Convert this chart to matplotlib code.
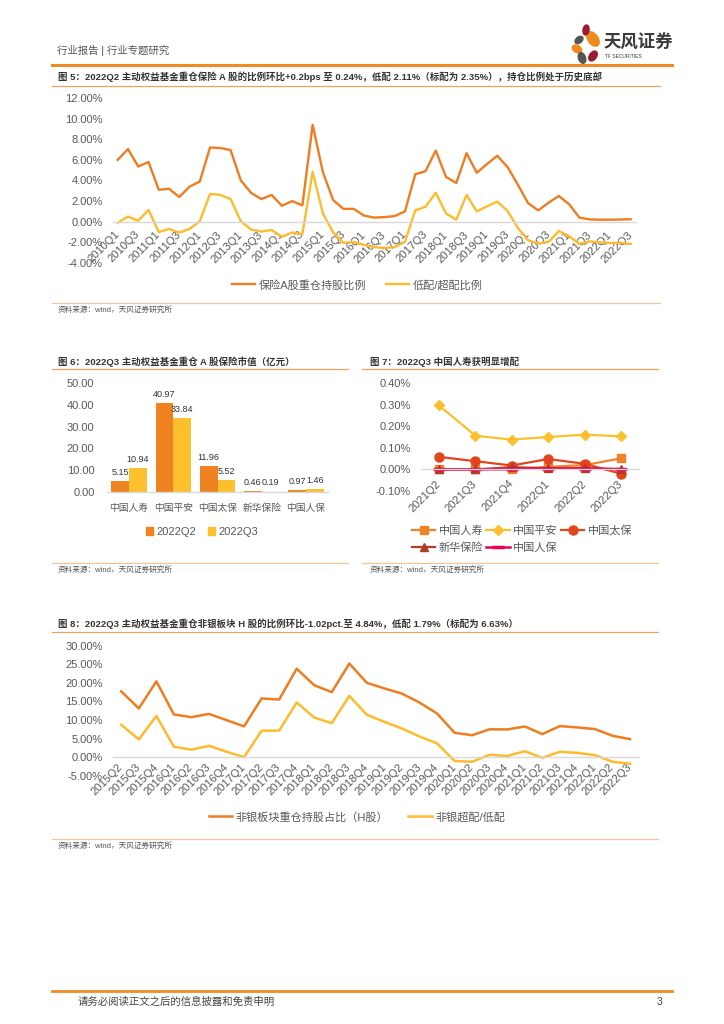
import matplotlib.pyplot as plt
import numpy as np
from matplotlib.patches import Ellipse, Patch

plt.rcParams['font.family'] = ['Liberation Sans', 'Noto Sans CJK SC']
plt.rcParams['axes.unicode_minus'] = False

W, H = 724, 1024
ORANGE = '#EE7D22'
YELLOW = '#FDBB2D'
GRAY = '#595959'
ZERO = '#D9D9D9'

# ---- chart 5 data (2010Q1 - 2022Q3)
q5 = [f'{y}Q{q}' for y in range(2010, 2023) for q in range(1, 5)][:51]
hold5 = [6.0, 7.05, 5.35, 5.8, 3.1, 3.2, 2.4, 3.4, 3.9, 7.2, 7.15, 6.95,
         4.0, 2.8, 2.2, 2.6, 1.55, 2.0, 1.6, 9.4, 4.8, 2.1, 1.25, 1.25,
         0.6, 0.4, 0.45, 0.55, 1.0, 4.6, 4.9, 6.9, 4.35, 3.75, 6.65, 4.75,
         5.6, 6.4, 5.3, 3.6, 1.8, 1.1, 1.85, 2.5, 1.7, 0.4, 0.23, 0.2,
         0.2, 0.22, 0.24]
over5 = [-0.1, 0.5, 0.1, 1.15, -1.0, -0.7, -1.05, -0.7, 0.05, 2.7, 2.6, 2.2,
         0.05, -0.75, -0.95, -0.8, -1.45, -1.05, -1.2, 4.85, 0.8, -1.05, -2.05, -1.95,
         -2.25, -2.45, -2.55, -2.45, -1.95, 1.1, 1.45, 2.8, 0.8, 0.2, 2.6, 1.0,
         1.5, 1.95, 1.05, -0.6, -1.8, -2.1, -1.95, -0.9, -1.4, -2.15, -1.9, -2.0,
         -2.05, -2.05, -2.15]

# ---- chart 6 data
cos6 = ['中国人寿', '中国平安', '中国太保', '新华保险', '中国人保']
q2_6 = [5.15, 40.97, 11.96, 0.46, 0.97]
q3_6 = [10.94, 33.84, 5.52, 0.19, 1.46]

# ---- chart 7 data
q7 = ['2021Q2', '2021Q3', '2021Q4', '2022Q1', '2022Q2', '2022Q3']
life7 = [0.0, 0.0, 0.0, 0.012, 0.02, 0.051]
pingan7 = [0.296, 0.156, 0.138, 0.150, 0.161, 0.153]
cpic7 = [0.058, 0.038, 0.018, 0.048, 0.026, -0.020]
nci7 = [0.0, 0.0, 0.01, 0.005, 0.005, 0.001]
picc7 = [0.0, 0.0, 0.002, 0.004, 0.004, 0.001]

# ---- chart 8 data (2015Q2 - 2022Q3)
q8 = [f'{y}Q{q}' for y in range(2015, 2023) for q in range(1, 5)][1:31]
hold8 = [17.7, 13.1, 20.4, 11.5, 10.75, 11.65, 9.95, 8.3, 15.8, 15.5,
         23.8, 19.35, 17.5, 25.2, 20.0, 18.5, 17.1, 14.7, 11.75, 6.55,
         5.9, 7.5, 7.45, 8.25, 6.2, 8.35, 8.0, 7.55, 5.75, 4.84]
over8 = [8.7, 4.75, 11.1, 2.8, 2.0, 3.05, 1.45, 0.0, 7.1, 7.15,
         14.7, 10.65, 9.15, 16.5, 11.4, 9.5, 7.7, 5.55, 3.7, -1.05,
         -1.25, 0.65, 0.3, 1.6, -0.2, 1.45, 1.15, 0.55, -1.25, -1.79]


def rect(x0, y0, x1, y1):
    return [x0 / W, 1 - y1 / H, (x1 - x0) / W, (y1 - y0) / H]


def fpos(x, y):
    return (x / W, 1 - y / H)


def style(ax, xpad, ypad, zero_spine=True):
    for s in ['top', 'right', 'left']:
        ax.spines[s].set_visible(False)
    ax.spines['bottom'].set_color(ZERO)
    ax.spines['bottom'].set_linewidth(1.0)
    if zero_spine:
        ax.spines['bottom'].set_position(('data', 0))
    ax.tick_params(length=0, labelsize=8, labelcolor=GRAY)
    ax.tick_params(axis='x', pad=xpad)
    ax.tick_params(axis='y', pad=ypad)
    ax.set_facecolor('none')


def rotate_labels(ax, labels):
    ax.set_xticklabels(labels)
    for t in ax.get_xticklabels():
        t.set_rotation(45)
        t.set_ha('right')
        t.set_va('center')
        t.set_rotation_mode('anchor')


fig = plt.figure(figsize=(W / 100, H / 100), dpi=100)

bg = fig.add_axes([0, 0, 1, 1])
bg.set_xlim(0, W)
bg.set_ylim(H, 0)
bg.axis('off')

# header
bg.text(57, 50, '行业报告 | 行业专题研究', fontsize=7.5, color='#555555', va='center')
bg.text(604, 42, '天风证券', fontsize=12.5, fontweight='bold', color='#3a3a3a', va='center')
bg.text(605, 56, 'TF SECURITIES', fontsize=3.5, color='#3a3a3a', va='center')
petals = [(593, 39, 10, 16, -35, '#F08A1C'), (586, 30, 6, 10, 10, '#9B1C31'),
          (579, 40, 6, 9, 50, '#555555'), (577, 49, 7, 10, -60, '#F08A1C'),
          (593, 56, 7, 11, 35, '#9B1C31'), (582, 58, 7, 11, -20, '#555555')]
for x, y, w, h, a, c in petals:
    bg.add_patch(Ellipse((x, y), w, h, angle=a, color=c))
bg.plot([52, 672], [65, 65], color='#F08A24', lw=2.2)

# titles, rules, sources
TFS = 6.8
bg.text(58, 77, '图 5：2022Q2 主动权益基金重仓保险 A 股的比例环比+0.2bps 至 0.24%，低配 2.11%（标配为 2.35%），持仓比例处于历史底部',
        fontsize=TFS, fontweight='bold', color='#333333', va='center')
bg.plot([52, 660], [86, 86], color='#F3A15E', lw=0.9)
bg.plot([52, 660], [303, 303], color='#F7C39A', lw=0.9)
bg.text(58, 310, '资料来源：wind，天风证券研究所', fontsize=5.5, color='#555555', va='center')

bg.text(58, 362, '图 6：2022Q3 主动权益基金重仓 A 股保险市值（亿元）',
        fontsize=TFS, fontweight='bold', color='#333333', va='center')
bg.plot([52, 348], [369, 369], color='#F3A15E', lw=0.9)
bg.plot([52, 348], [563, 563], color='#F7C39A', lw=0.9)
bg.text(58, 570, '资料来源：wind，天风证券研究所', fontsize=5.5, color='#555555', va='center')

bg.text(370, 362, '图 7：2022Q3 中国人寿获明显增配',
        fontsize=TFS, fontweight='bold', color='#333333', va='center')
bg.plot([362, 658], [369, 369], color='#F3A15E', lw=0.9)
bg.plot([362, 658], [563, 563], color='#F7C39A', lw=0.9)
bg.text(370, 570, '资料来源：wind，天风证券研究所', fontsize=5.5, color='#555555', va='center')

bg.text(58, 624, '图 8：2022Q3 主动权益基金重仓非银板块 H 股的比例环比-1.02pct.至 4.84%，低配 1.79%（标配为 6.63%）',
        fontsize=TFS, fontweight='bold', color='#333333', va='center')
bg.plot([52, 658], [632, 632], color='#F3A15E', lw=0.9)
bg.plot([52, 658], [839, 839], color='#F7C39A', lw=0.9)
bg.text(58, 846, '资料来源：wind，天风证券研究所', fontsize=5.5, color='#555555', va='center')

# footer
bg.plot([52, 672], [991, 991], color='#F08A24', lw=2.0)
bg.text(78, 1002, '请务必阅读正文之后的信息披露和免责申明', fontsize=7.5, color='#444444', va='center')
bg.text(662, 1002, '3', fontsize=7.5, color='#444444', va='center', ha='right')

# ---- chart 5
ax5 = fig.add_axes(rect(112.6, 98, 635.8, 263))
x5 = np.arange(len(q5))
ax5.plot(x5, hold5, color=ORANGE, lw=1.7, label='保险A股重仓持股比例')
ax5.plot(x5, over5, color=YELLOW, lw=1.7, label='低配/超配比例')
ax5.set_xlim(-0.5, len(q5) - 0.5)
ax5.set_ylim(-4, 12)
style(ax5, xpad=8, ypad=7)
ax5.set_yticks(np.arange(-4, 13, 2))
ax5.set_yticklabels([f'{v:.2f}%' for v in np.arange(-4, 13, 2)])
ax5.set_xticks(x5[::2])
rotate_labels(ax5, q5[::2])
ax5.legend(loc='center', bbox_to_anchor=fpos(357, 285), bbox_transform=fig.transFigure,
           ncol=2, frameon=False, fontsize=8, handlelength=2.1, handletextpad=0.3,
           columnspacing=1.8, labelcolor=GRAY)

# ---- chart 6
ax6 = fig.add_axes(rect(107, 383, 328, 492))
x6 = np.arange(len(cos6))
bw = 0.4
b2 = ax6.bar(x6 - bw / 2, q2_6, bw, color='#F08321', label='2022Q2')
b3 = ax6.bar(x6 + bw / 2, q3_6, bw, color='#FCC02E', label='2022Q3')
ax6.bar_label(b2, fmt='%.2f', padding=3, fontsize=6.5, color='#333333')
ax6.bar_label(b3, fmt='%.2f', padding=3, fontsize=6.5, color='#333333')
ax6.set_xlim(-0.5, 4.5)
ax6.set_ylim(0, 50)
style(ax6, xpad=8, ypad=9, zero_spine=False)
ax6.set_yticks(np.arange(0, 51, 10))
ax6.set_yticklabels([f'{v:.2f}' for v in np.arange(0, 51, 10)])
ax6.set_xticks(x6)
ax6.set_xticklabels(cos6, fontsize=7)
ax6.legend(handles=[Patch(color='#F08321', label='2022Q2'), Patch(color='#FCC02E', label='2022Q3')],
           loc='center', bbox_to_anchor=fpos(202, 532), bbox_transform=fig.transFigure,
           ncol=2, frameon=False, fontsize=8, handlelength=0.65, handleheight=0.65,
           handletextpad=0.3, columnspacing=1.0, labelcolor=GRAY)

# ---- chart 7
ax7 = fig.add_axes(rect(420.8, 383, 639.2, 491))
x7 = np.arange(len(q7))
l1, = ax7.plot(x7, life7, color='#F0832A', lw=1.6, marker='s', ms=6, label='中国人寿')
l2, = ax7.plot(x7, pingan7, color='#FCC02E', lw=1.6, marker='D', ms=5.5, label='中国平安')
l3, = ax7.plot(x7, cpic7, color='#E2451C', lw=1.6, marker='o', ms=6.5, label='中国太保')
l4, = ax7.plot(x7, nci7, color='#B23A2A', lw=1.6, marker='^', ms=6, label='新华保险')
l5, = ax7.plot(x7, picc7, color='#E8004F', lw=1.8, marker='_', ms=8, mew=2.5, label='中国人保')
ax7.set_xlim(-0.5, 5.5)
ax7.set_ylim(-0.1, 0.4)
style(ax7, xpad=9, ypad=7)
ax7.set_yticks(np.arange(-0.1, 0.41, 0.1))
ax7.set_yticklabels([f'{v:.2f}%' for v in np.arange(-0.1, 0.41, 0.1)])
ax7.set_xticks(x7)
rotate_labels(ax7, q7)
ax7.legend(handles=[l1, l4, l2, l5, l3], loc='center', bbox_to_anchor=fpos(522, 539),
           bbox_transform=fig.transFigure, ncol=3, frameon=False, fontsize=8,
           handlelength=2.1, handletextpad=0.3, columnspacing=0.3, labelspacing=0.6,
           labelcolor=GRAY)

# ---- chart 8
ax8 = fig.add_axes(rect(112.5, 645.7, 638.8, 775.7))
x8 = np.arange(len(q8))
ax8.plot(x8, hold8, color=ORANGE, lw=1.8, label='非银板块重仓持股占比（H股）')
ax8.plot(x8, over8, color=YELLOW, lw=1.8, label='非银超配/低配')
ax8.set_xlim(-0.5, len(q8) - 0.5)
ax8.set_ylim(-5, 30)
style(ax8, xpad=6, ypad=7)
ax8.set_yticks(np.arange(-5, 31, 5))
ax8.set_yticklabels([f'{v:.2f}%' for v in np.arange(-5, 31, 5)])
ax8.set_xticks(x8)
rotate_labels(ax8, q8)
ax8.legend(loc='center', bbox_to_anchor=fpos(357, 817), bbox_transform=fig.transFigure,
           ncol=2, frameon=False, fontsize=8, handlelength=2.1, handletextpad=0.3,
           columnspacing=1.8, labelcolor=GRAY)

fig.savefig('out.png', dpi=100)
